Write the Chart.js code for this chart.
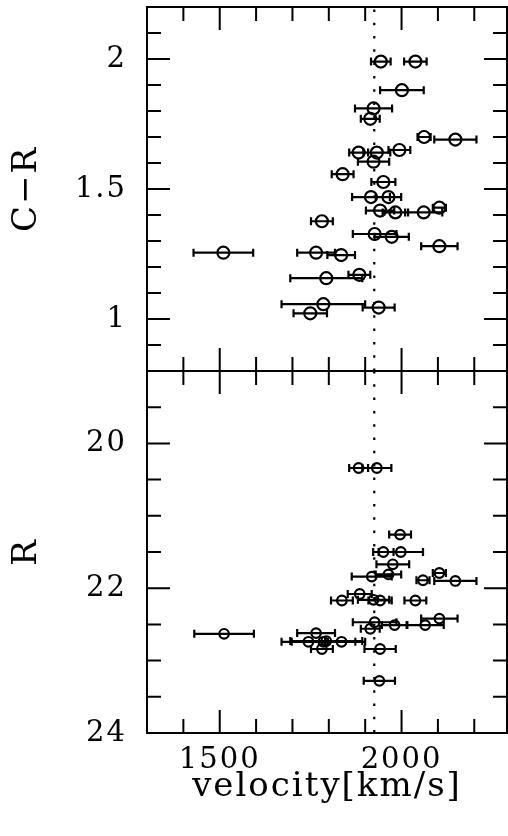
<!DOCTYPE html>
<html>
<head>
<meta charset="utf-8">
<script src="https://cdn.jsdelivr.net/npm/chart.js@4.4.1/dist/chart.umd.min.js"></script>
<style>
  html, body { margin: 0; padding: 0; background: #fff; }
  .panel { position: absolute; left: 0; top: 0; width: 508px; height: 836px; }
</style>
</head>
<body>
<div class="panel"><canvas id="colourChart" width="508" height="836"></canvas></div>
<div class="panel"><canvas id="magChart" width="508" height="836"></canvas></div>
<script>
// shared velocity axis
const VEL_MIN = 1300, VEL_MAX = 2290;
const REF_VEL = 1925;              // dotted line
const velTicks = [1500, 2000];

// top panel: C-R colour
const crVel = [1943, 2038, 2001, 1923, 1914, 2062, 2148, 1882, 1932, 1994, 1923, 1838, 1950, 1916, 1964, 2104,
               1941, 1983, 2061, 1781, 1926, 1973, 2104, 1510, 1765, 1834, 1884, 1793, 1785, 1937, 1749];
const crVal = [1.99, 1.99, 1.88, 1.81, 1.77, 1.70, 1.69, 1.64, 1.64, 1.65, 1.605, 1.557, 1.527, 1.469, 1.469, 1.428,
               1.417, 1.41, 1.41, 1.376, 1.327, 1.316, 1.28, 1.255, 1.255, 1.246, 1.17, 1.157, 1.057, 1.044, 1.022];
const crErr = [27, 31, 60, 51, 26, 18, 58, 26, 37, 30, 43, 30, 33, 52, 35, 18,
               39, 35, 51, 30, 60, 47, 50, 82, 52, 38, 30, 99, 115, 44, 46];
const crTicks = [1, 1.5, 2];

// bottom panel: R magnitude
const rVel = [1882, 1932, 1996, 1950, 1998, 1976, 1918, 1964, 2104, 2059, 2148, 1885, 1836, 1923, 1941,
              2038, 2104, 1926, 1981, 2065, 1914, 1512, 1765, 1744, 1785, 1793, 1835, 1781, 1941, 1939];
const rVal = [20.34, 20.34, 21.26, 21.50, 21.50, 21.67, 21.84, 21.81, 21.79, 21.89, 21.90, 22.08, 22.17, 22.16, 22.17,
              22.17, 22.42, 22.47, 22.51, 22.51, 22.56, 22.63, 22.62, 22.74, 22.74, 22.73, 22.74, 22.84, 22.84, 23.28];
const rErr = [26, 40, 30, 28, 61, 45, 55, 35, 18, 18, 58, 33, 30, 43, 32,
              30, 50, 60, 35, 51, 26, 82, 52, 46, 115, 99, 38, 30, 43, 43];
const rTicks = [20, 22, 24];

const TICK_FONT = { family: "'DejaVu Serif', serif", size: 29 };
const TITLE_FONT = { family: "'DejaVu Serif', serif", size: 34 };

// the old plotting fonts are wide, spread the letters a bit
const wideText = {
    id: 'wideText',
    beforeUpdate(chart) { chart.ctx.letterSpacing = '2px'; },
    beforeDraw(chart) { chart.ctx.letterSpacing = '2px'; }
};

// frame + inward ticks on all four sides, minor and major
function frameTicks(xStep, yStep, xMajor, yMajor) {
    return {
        id: 'frameTicks',
        afterDraw(chart) {
            const { ctx, chartArea: a, scales: { x, y } } = chart;
            const isMajor = (v, list) => list.some(m => Math.abs(m - v) < 1e-6);
            ctx.save();
            ctx.strokeStyle = '#000';
            ctx.lineWidth = 2;
            ctx.beginPath();
            const x0 = Math.ceil(Math.min(x.min, x.max) / xStep), x1 = Math.floor(Math.max(x.min, x.max) / xStep);
            for (let k = x0; k <= x1; k++) {
                const v = k * xStep;
                const px = x.getPixelForValue(v);
                const len = isMajor(v, xMajor) ? 23 : 14;
                ctx.moveTo(px, a.top); ctx.lineTo(px, a.top + len);
                ctx.moveTo(px, a.bottom); ctx.lineTo(px, a.bottom - len);
            }
            const y0 = Math.ceil(Math.min(y.min, y.max) / yStep - 1e-6), y1 = Math.floor(Math.max(y.min, y.max) / yStep + 1e-6);
            for (let k = y0; k <= y1; k++) {
                const v = k * yStep;
                const py = y.getPixelForValue(v);
                const len = isMajor(v, yMajor) ? 23 : 14;
                ctx.moveTo(a.left, py); ctx.lineTo(a.left + len, py);
                ctx.moveTo(a.right, py); ctx.lineTo(a.right - len, py);
            }
            ctx.stroke();
            ctx.strokeRect(a.left, a.top, a.right - a.left, a.bottom - a.top);
            ctx.restore();
        }
    };
}

// horizontal velocity error bars with caps
const errorBars = {
    id: 'errorBars',
    beforeDatasetsDraw(chart) {
        const { ctx, scales: { x, y } } = chart;
        ctx.save();
        ctx.strokeStyle = '#000';
        ctx.lineWidth = 2.2;
        ctx.beginPath();
        chart.data.datasets.forEach(ds => {
            if (!ds.err) return;
            ds.data.forEach((p, i) => {
                const py = y.getPixelForValue(p.y);
                const xl = x.getPixelForValue(p.x - ds.err[i]);
                const xr = x.getPixelForValue(p.x + ds.err[i]);
                ctx.moveTo(xl, py); ctx.lineTo(xr, py);
                ctx.moveTo(xl, py - 4); ctx.lineTo(xl, py + 4);
                ctx.moveTo(xr, py - 4); ctx.lineTo(xr, py + 4);
            });
        });
        ctx.stroke();
        ctx.restore();
    }
};

function noPad(s) {
    s.paddingTop = 0; s.paddingBottom = 0; s.paddingLeft = 0; s.paddingRight = 0;
}

function makePanel(id, vel, val, err, yMin, yMax, reverse, yTicks, yStep, title, radius, isBottom) {
    const ctx = document.getElementById(id).getContext('2d');
    return new Chart(ctx, {
        type: 'scatter',
        data: {
            datasets: [{
                type: 'line',
                data: [{ x: REF_VEL, y: yMin }, { x: REF_VEL, y: yMax }],
                borderColor: '#000',
                borderWidth: 2.2,
                borderDash: [2.5, 10.8],
                pointRadius: 0
            }, {
                data: vel.map((v, i) => ({ x: v, y: val[i] })),
                err: err,
                pointStyle: 'circle',
                pointRadius: radius,
                borderColor: '#000',
                borderWidth: 2.2,
                backgroundColor: 'rgba(0,0,0,0)'
            }]
        },
        options: {
            responsive: false,
            animation: false,
            events: [],
            layout: {
                autoPadding: false,
                padding: isBottom ? { top: 371, right: 1, bottom: 0, left: 0 } : { top: 7, right: 1, bottom: 465, left: 0 }
            },
            plugins: { legend: { display: false }, tooltip: { enabled: false } },
            scales: {
                x: {
                    type: 'linear',
                    min: VEL_MIN,
                    max: VEL_MAX,
                    display: isBottom,
                    grid: { display: false, drawTicks: false },
                    border: { display: false },
                    afterBuildTicks: s => { s.ticks = velTicks.map(v => ({ value: v })); },
                    afterFit: s => { s.height = isBottom ? 103 : 0; noPad(s); },
                    ticks: { color: '#000', font: TICK_FONT, padding: 10, maxRotation: 0, callback: v => String(v) },
                    title: { display: true, text: 'velocity[km/s]', color: '#000', font: TITLE_FONT, padding: { top: 0, bottom: 28 } }
                },
                y: {
                    type: 'linear',
                    min: yMin,
                    max: yMax,
                    reverse: reverse,
                    grid: { display: false, drawTicks: false },
                    border: { display: false },
                    afterBuildTicks: s => { s.ticks = yTicks.map(v => ({ value: v })); },
                    afterFit: s => { s.width = 147; noPad(s); },
                    ticks: { color: '#000', font: TICK_FONT, padding: 20, callback: v => String(v) },
                    title: { display: true, text: title, color: '#000', font: TITLE_FONT, padding: { top: 7, bottom: 0 } }
                }
            }
        },
        plugins: [wideText, errorBars, frameTicks(100, yStep, velTicks, yTicks)]
    });
}

makePanel('colourChart', crVel, crVal, crErr, 0.8, 2.2, false, crTicks, 0.1, 'C−R', 6, false);
makePanel('magChart', rVel, rVal, rErr, 19, 24, true, rTicks, 0.5, 'R', 4.8, true);
</script>
</body>
</html>
